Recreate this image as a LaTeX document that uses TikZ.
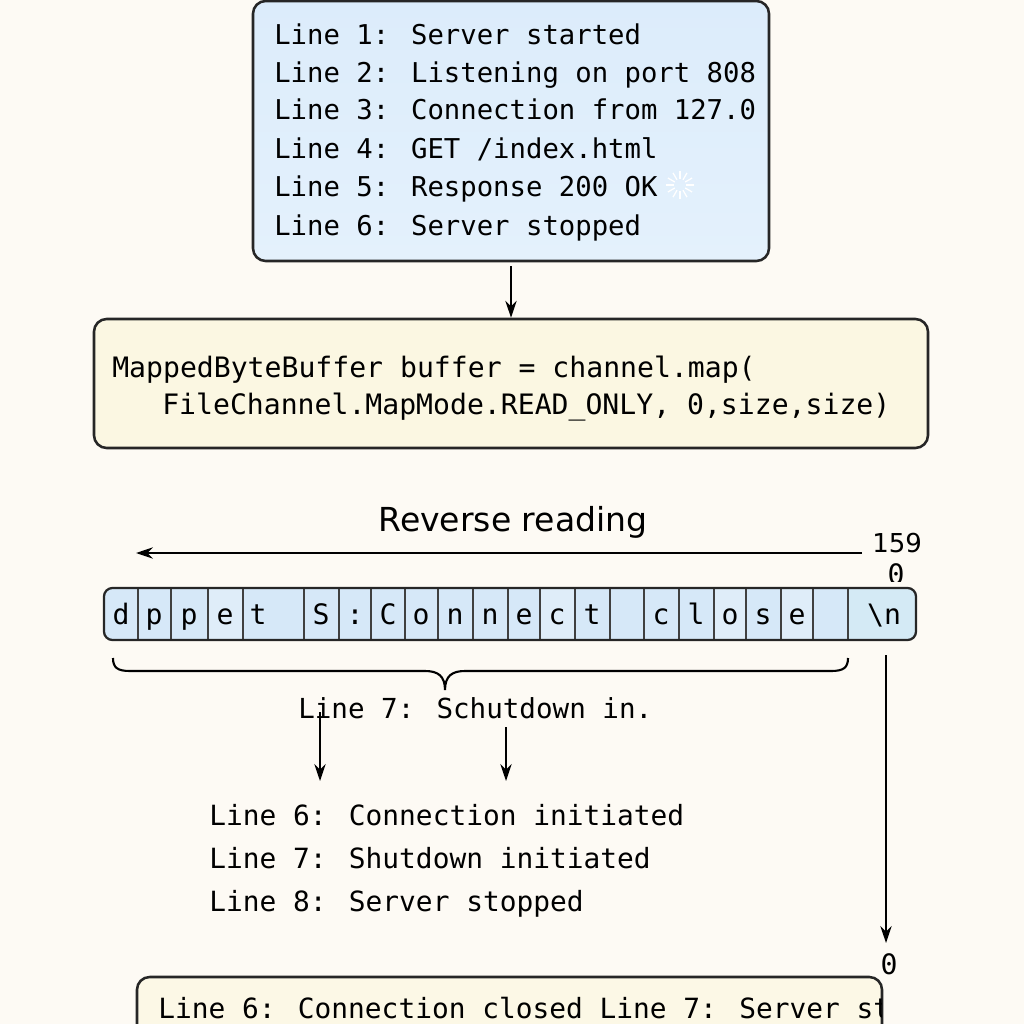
\documentclass[tikz,border=0pt]{standalone}
\usepackage{fontspec}
\setmainfont{DejaVu Sans}
\newfontfamily\codefont{DejaVu Sans Mono}
\usetikzlibrary{arrows.meta,fit}
\definecolor{bgc}{HTML}{FDFAF4}
\definecolor{logtop}{HTML}{DCECFB}
\definecolor{logbot}{HTML}{E4F1FC}
\definecolor{codefill}{HTML}{FBF7E2}
\definecolor{cellA}{HTML}{D6E8F8}
\definecolor{cellB}{HTML}{DFEDF9}
\definecolor{cellN}{HTML}{D4EAF5}
\definecolor{botfill}{HTML}{FCF8E6}
\begin{document}
\begin{tikzpicture}[x=0.025cm,y=-0.025cm,
  box/.style={draw=black!85, line width=1.8pt, rounded corners=9pt, inner sep=0pt},
  txt/.style={anchor=base west, inner sep=0pt, font=\codefont\fontsize{19.4}{23}\selectfont},
  ctxt/.style={anchor=base, inner sep=0pt, font=\codefont\fontsize{20}{23}\selectfont},
  arr/.style={-{Stealth[length=12pt,width=8pt]}, line width=1.5pt},
  cellbox/.style={draw=black!75, line width=0.9pt, inner sep=0pt}]
\clip (0,0) rectangle (1024,1024);
\fill[bgc] (0,0) rectangle (1024,1024);
\useasboundingbox (0,0) rectangle (1024,1024);

% top log box
\node[box, top color=logtop, bottom color=logbot, fit={(253,1) (769,261)}] (log) {};
\node[txt] (l1) at (274,45)  {Line 1: Server started};
\node[txt] (l2) at (274,83)  {Line 2: Listening on port 808};
\node[txt] (l3) at (274,120) {Line 3: Connection from 127.0};
\node[txt] (l4) at (274,159) {Line 4: GET /index.html};
\node[txt] (l5) at (274,197) {Line 5: Response 200 OK};
\node[txt] (l6) at (274,235) {Line 6: Server stopped};
\foreach \a in {0,30,...,330}
  \draw[white, line width=0.9pt] (680,185) ++(\a:6) -- ++(\a:8);

% code box
\node[box, fill=codefill, fit={(94,319) (928,448)}] (code) {};
\node[txt, font=\codefont\fontsize{20}{24}\selectfont] (c1) at (112,377) {MappedByteBuffer buffer = channel.map(};
\node[txt, font=\codefont\fontsize{20}{24}\selectfont] (c2) at (162,414) {FileChannel.MapMode.READ\_ONLY, 0,size,size)};
\draw[arr] ([yshift=-3pt]log.south) -- (code.north);

% reverse reading
\node[anchor=base, inner sep=0pt, font=\fontsize{23.5}{28}\selectfont] (rev) at (513,531) {Reverse reading};
\coordinate (revstart) at (862,553);
\coordinate (revend) at (136,553);
\draw[arr] (revstart) -- (revend);
\node[anchor=base west, inner sep=0pt, font=\fontsize{18.5}{22}\selectfont] (n159) at (872,552) {159};
\begin{scope}
\clip (860,555) rectangle (930,581);
\node[ctxt] (n0a) at (896,584) {0};
\end{scope}

% byte cells
\begin{scope}
\clip[rounded corners=6pt] (104,588) rectangle (916,640);
\foreach \xa/\xb/\col [count=\i] in {104/138/cellA,138/171/cellA,171/208/cellA,208/243/cellB,243/304/cellA,304/339/cellA,339/371/cellA,371/405/cellA,405/438/cellA,438/473/cellA,473/508/cellA,508/540/cellA,540/575/cellB,575/610/cellA,610/644/cellA,644/679/cellA,679/714/cellA,714/746/cellB,746/781/cellA,781/813/cellB,813/848/cellA,848/916/cellN}
  \node[cellbox, fill=\col, fit={(\xa,588) (\xb,640)}] (cell\i) {};
\end{scope}
\node[draw=black!85, line width=1.6pt, rounded corners=6pt, inner sep=0pt, fit={(104,588) (916,640)}] (bytes) {};
\foreach \xc/\ch in {121/d,154/p,189/p,225/e,258/t,321/S,355/:,388/C,421/o,455/n,490/n,524/e,557/c,592/t,661/c,696/l,730/o,763/s,797/e}
  \node[ctxt] at (\xc,624) {\ch};
\node[ctxt] (nl) at (884,624) {\textbackslash n};

% brace
\coordinate (brl) at (113,658);
\coordinate (brr) at (848,658);
\coordinate (brtip) at (445,690);
\draw[line width=1.5pt] (brl) .. controls (113,668) and (118,671) .. (130,671)
  -- (425,671) .. controls (438,671) and (445,676) .. (brtip)
  .. controls (445,676) and (452,671) .. (465,671)
  -- (831,671) .. controls (843,671) and (848,668) .. (brr);

\node[txt, font=\codefont\fontsize{19.6}{24}\selectfont] (sch) at (298,718) {Line 7: Schutdown in.};
\coordinate (a1s) at (320,712); \coordinate (a1e) at (320,781);
\coordinate (a2s) at (506,727); \coordinate (a2e) at (506,781);
\draw[arr] (a1s) -- (a1e);
\draw[arr] (a2s) -- (a2e);

\node[txt, font=\codefont\fontsize{19.8}{24}\selectfont] (r6) at (209,825) {Line 6: Connection initiated};
\node[txt, font=\codefont\fontsize{19.8}{24}\selectfont] (r7) at (209,868) {Line 7: Shutdown initiated};
\node[txt, font=\codefont\fontsize{19.8}{24}\selectfont] (r8) at (209,911) {Line 8: Server stopped};

% right arrow
\coordinate (ras) at (886,655);
\coordinate (rae) at (886,943);
\draw[arr] (ras) -- (rae);
\node[ctxt] (n0b) at (889,974) {0};

% bottom box
\node[box, fill=botfill, fit={(137,977) (882,1070)}] (bot) {};
\begin{scope}
\clip (137,977) rectangle (881,1070);
\node[txt, font=\codefont\fontsize{19.8}{24}\selectfont] (b1) at (158,1018) {Line 6: Connection closed Line 7: Server stopped};
\end{scope}
\end{tikzpicture}
\end{document}
